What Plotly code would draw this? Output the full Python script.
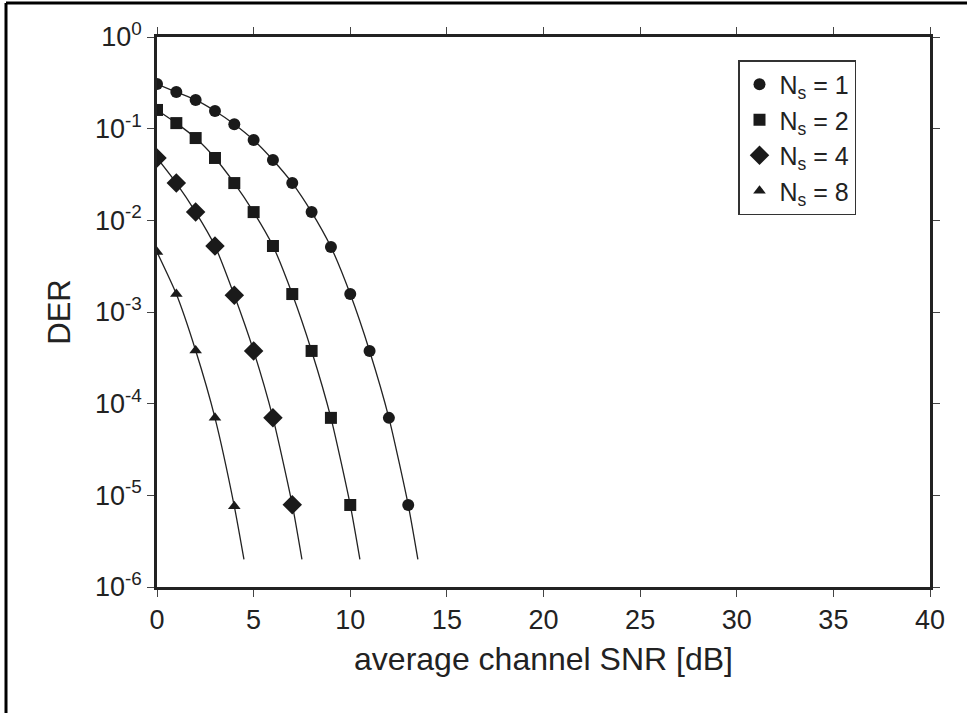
import plotly.graph_objects as go

# Data
snr_ns1 = [0, 1, 2, 3, 4, 5, 6, 7, 8, 9, 10, 11, 12, 13]
der_ns1 = [0.307, 0.251, 0.206, 0.156, 0.112, 0.0752, 0.0455, 0.0255, 0.0123, 0.00512, 0.00157, 3.76e-4, 7.0e-5, 7.85e-6]
snr_ns2 = [0, 1, 2, 3, 4, 5, 6, 7, 8, 9, 10]
der_ns2 = [0.16, 0.115, 0.079, 0.0479, 0.0255, 0.0123, 0.00525, 0.00157, 3.76e-4, 7.0e-5, 7.85e-6]
snr_ns4 = [0, 1, 2, 3, 4, 5, 6, 7]
der_ns4 = [0.0479, 0.0255, 0.0123, 0.00525, 0.00152, 3.76e-4, 7.0e-5, 7.9e-6]
snr_ns8 = [0, 1, 2, 3, 4]
der_ns8 = [0.0045, 0.00157, 3.8e-4, 7.0e-5, 7.6e-6]
# where each curve ends below the last marker
curve_end_snr = [13.5, 10.5, 7.5, 4.5]
curve_end_der = [2.0e-6, 2.0e-6, 2.0e-6, 2.0e-6]

labels = ["N<sub>s</sub> = 1", "N<sub>s</sub> = 2", "N<sub>s</sub> = 4", "N<sub>s</sub> = 8"]
symbols = ["circle", "square", "diamond", "triangle-up"]
sizes = [12, 12, 15, 11]

x_ticks = [0, 5, 10, 15, 20, 25, 30, 35, 40]
y_tickvals = [1, 1e-1, 1e-2, 1e-3, 1e-4, 1e-5, 1e-6]
y_ticktext = ["10<sup>0</sup>", "10<sup>-1</sup>", "10<sup>-2</sup>", "10<sup>-3</sup>",
              "10<sup>-4</sup>", "10<sup>-5</sup>", "10<sup>-6</sup>"]

series = [(snr_ns1, der_ns1), (snr_ns2, der_ns2), (snr_ns4, der_ns4), (snr_ns8, der_ns8)]

fig = go.Figure()
for i, (xs, ys) in enumerate(series):
    fig.add_trace(go.Scatter(
        x=xs + [curve_end_snr[i]], y=ys + [curve_end_der[i]],
        mode="lines", line=dict(color="#222", width=1.3, shape="spline", smoothing=0.6),
        showlegend=False, hoverinfo="skip"))
for i, (xs, ys) in enumerate(series):
    fig.add_trace(go.Scatter(
        x=xs, y=ys, mode="markers", name=labels[i],
        marker=dict(symbol=symbols[i], size=sizes[i], color="#1a1a1a")))

font_family = "Liberation Sans, Arial, sans-serif"
L, R, T, B = 157, 37, 37, 126
PW, PH = 967 - L - R, 713 - T - B
fig.update_layout(
    width=967, height=713,
    margin=dict(l=L, r=R, t=T, b=B),
    paper_bgcolor="white", plot_bgcolor="white",
    font=dict(family=font_family, color="#222", size=24),
    xaxis=dict(range=[0, 40], tickvals=x_ticks, ticks="outside", ticklen=7, tickwidth=1.3,
               showline=True, linecolor="#222", linewidth=2.5, mirror="ticks",
               showgrid=False, zeroline=False, tickfont=dict(size=27),
               title=dict(text="average channel SNR [dB]", font=dict(size=32), standoff=14)),
    yaxis=dict(type="log", range=[-6, 0], tickvals=y_tickvals, ticktext=y_ticktext,
               ticks="outside", ticklen=7, tickwidth=1.3,
               showline=True, linecolor="#222", linewidth=2.5, mirror="ticks",
               showgrid=False, zeroline=False, tickfont=dict(size=27),
               title=dict(text="DER", font=dict(size=31), standoff=16)),
    legend=dict(x=(738 - L) / PW, y=(713 - B - 60) / PH, xanchor="left", yanchor="top",
                bgcolor="white", bordercolor="#333", borderwidth=1.5,
                font=dict(size=25), tracegroupgap=0, itemwidth=30),
    shapes=[
        dict(type="line", xref="paper", yref="paper", x0=(6 - L) / PW, x1=(967 - L) / PW,
             y0=(713 - B - 3) / PH, y1=(713 - B - 3) / PH, line=dict(color="black", width=3)),
        dict(type="line", xref="paper", yref="paper", x0=(6 - L) / PW, x1=(6 - L) / PW,
             y0=(713 - B - 3) / PH, y1=-B / PH, line=dict(color="black", width=3)),
    ],
)

fig.write_html("out.html", config={"displayModeBar": False},
               post_script="document.body.style.margin='0';document.body.style.overflow='hidden';")
